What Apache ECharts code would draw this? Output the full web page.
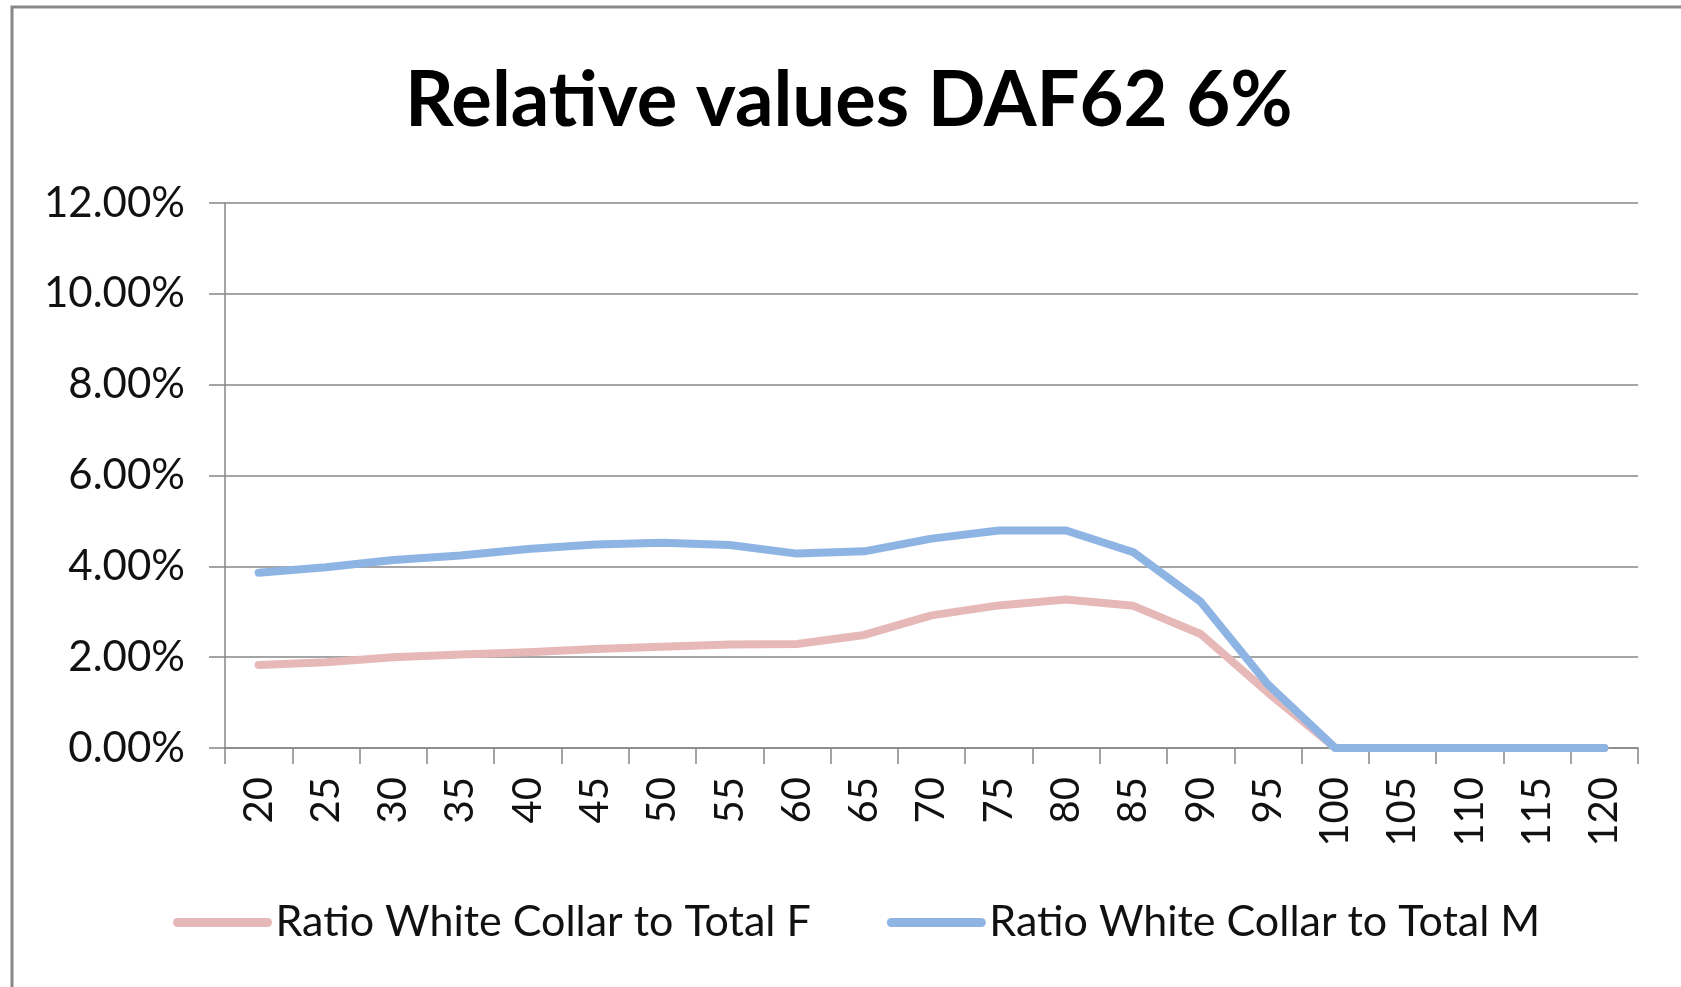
<!DOCTYPE html>
<html>
<head>
<meta charset="utf-8">
<title>Relative values DAF62 6%</title>
<script src="https://cdn.jsdelivr.net/npm/echarts@6/dist/echarts.min.js"></script>
<style>
  html, body { margin: 0; padding: 0; background: #fff; }
  #chart { width: 1681px; height: 987px; }
</style>
</head>
<body>
<div id="chart"></div>
<script>
// ages on the x axis
const ages = ['20', '25', '30', '35', '40', '45', '50', '55', '60', '65', '70',
  '75', '80', '85', '90', '95', '100', '105', '110', '115', '120']

// values in percent
const ratioF = [1.83, 1.89, 2.00, 2.06, 2.11, 2.18, 2.23, 2.28, 2.29, 2.49, 2.92,
  3.14, 3.27, 3.13, 2.51, 1.22, 0, 0, 0, 0, 0]
const ratioM = [3.86, 3.98, 4.14, 4.24, 4.38, 4.48, 4.52, 4.47, 4.28, 4.33, 4.61,
  4.79, 4.79, 4.31, 3.22, 1.40, 0, 0, 0, 0, 0]

const seriesNames = ['Ratio White Collar to Total F', 'Ratio White Collar to Total M']

const font = 'Lato, "Noto Sans", sans-serif'
const gray = '#878787'

const chart = echarts.init(document.getElementById('chart'))

chart.setOption({
  backgroundColor: '#ffffff',
  animation: false,
  title: {
    text: 'Relative values DAF62 6%',
    left: 400,
    top: 58,
    textStyle: {
      fontFamily: font,
      fontWeight: 'bold',
      fontSize: 76,
      color: '#000'
    }
  },
  graphic: [{
    type: 'rect',
    shape: { x: 12, y: 7, width: 3000, height: 3000 },
    style: { fill: 'none', stroke: gray, lineWidth: 3 },
    silent: true
  }],
  legend: {
    orient: 'horizontal',
    left: 168,
    top: 896,
    itemWidth: 90,
    itemHeight: 14,
    itemGap: 76,
    lineStyle: { width: 9, cap: 'round' },
    itemStyle: { opacity: 0 },
    textStyle: {
      fontFamily: font,
      fontSize: 43,
      color: '#111',
      padding: [0, 0, 0, 3]
    },
    data: seriesNames
  },
  grid: {
    left: 225,
    right: 43,
    top: 203,
    bottom: 239
  },
  xAxis: {
    type: 'category',
    boundaryGap: true,
    data: ages,
    axisLine: { lineStyle: { color: gray, width: 1.5 } },
    axisTick: { show: true, length: 16, lineStyle: { color: gray, width: 1.5 } },
    axisLabel: {
      rotate: 90,
      margin: 29,
      interval: 0,
      fontFamily: font,
      fontSize: 40,
      color: '#111'
    }
  },
  yAxis: {
    type: 'value',
    min: 0,
    max: 12,
    interval: 2,
    axisLine: { show: true, lineStyle: { color: gray, width: 1.5 } },
    axisTick: { show: true, length: 16, lineStyle: { color: gray, width: 1.5 } },
    splitLine: { lineStyle: { color: gray, width: 1.5 } },
    axisLabel: {
      margin: 40,
      fontFamily: font,
      fontSize: 42,
      color: '#111',
      formatter: function (v) {
        return v.toFixed(2) + '%'
      }
    }
  },
  series: [{
    name: seriesNames[0],
    type: 'line',
    data: ratioF,
    symbol: 'none',
    smooth: false,
    lineStyle: { color: '#E6B9B8', width: 8, cap: 'round', join: 'round' },
    itemStyle: { color: '#E6B9B8' }
  }, {
    name: seriesNames[1],
    type: 'line',
    data: ratioM,
    symbol: 'none',
    smooth: false,
    lineStyle: { color: '#8EB4E3', width: 8, cap: 'round', join: 'round' },
    itemStyle: { color: '#8EB4E3' }
  }]
})
</script>
</body>
</html>
